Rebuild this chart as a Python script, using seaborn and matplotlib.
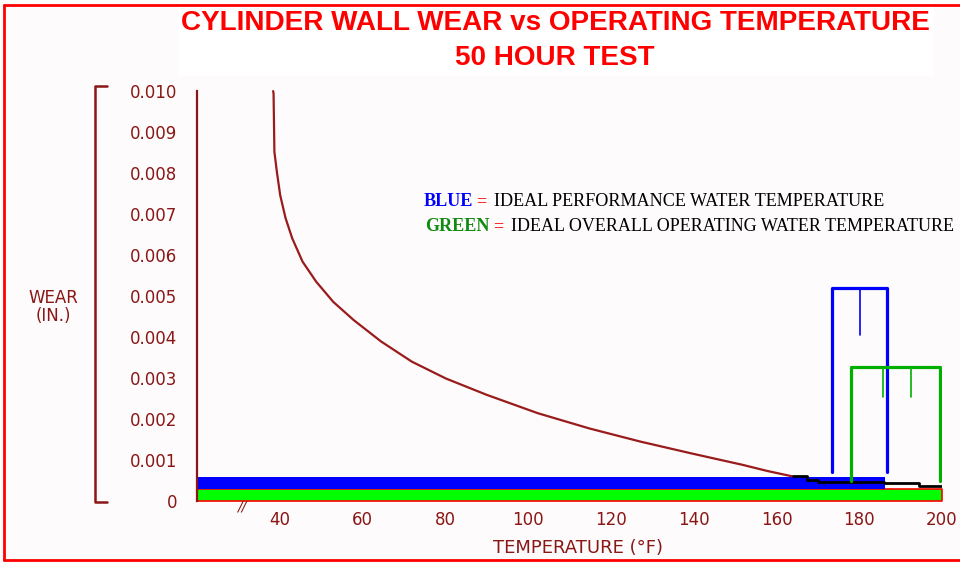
import matplotlib
matplotlib.use("Agg")
import matplotlib.pyplot as plt
import seaborn as sns
from matplotlib.lines import Line2D
from matplotlib.patches import Rectangle

# ---------------- data ----------------
temp_curve = [38.4, 38.5, 38.7, 39.3, 40.1, 41.4, 43.0, 45.5, 48.8, 52.9, 57.9,
              64.5, 71.9, 80.1, 90.0, 102.4, 114.8, 127.1, 139.5, 151.9, 157.9, 163.9]
wear_curve = [0.0100, 0.00994, 0.00852, 0.00803, 0.00746, 0.00690, 0.00641,
              0.00584, 0.00535, 0.00486, 0.00441, 0.00389, 0.00340, 0.00299,
              0.00259, 0.00214, 0.00177, 0.00145, 0.00116, 0.00088, 0.00073, 0.00060]
temp_black = [163.9, 167.5, 170.0, 186.0, 194.5, 200.0]
wear_black = [0.00060, 0.00052, 0.00047, 0.00044, 0.00036, 0.00036]

blue_band_x = [20, 186.3]
blue_band_low = [0.0003, 0.0003]
blue_band_high = [0.00058, 0.00058]
green_band_x = [20, 200]
green_band_low = [0.0, 0.0]
green_band_high = [0.0003, 0.0003]

blue_bracket_x = [173.5, 173.5, 186.7, 186.7]
blue_bracket_y = [0.00071, 0.0052, 0.0052, 0.00071]
blue_mark_x = [180.2]
blue_mark_y = [0.0052, 0.00405]
green_bracket_x = [178.0, 178.0, 199.5, 199.5]
green_bracket_y = [0.0005, 0.00327, 0.00327, 0.0005]
green_mark_x = [185.8, 192.5]
green_mark_y = [0.00327, 0.00254]

yticks = [0, 0.001, 0.002, 0.003, 0.004, 0.005, 0.006, 0.007, 0.008, 0.009, 0.010]
ytick_labels = ["0", "0.001", "0.002", "0.003", "0.004", "0.005", "0.006",
                "0.007", "0.008", "0.009", "0.010"]
xticks = [40, 60, 80, 100, 120, 140, 160, 180, 200]
xtick_labels = ["40", "60", "80", "100", "120", "140", "160", "180", "200"]

title_1 = "CYLINDER WALL WEAR vs OPERATING TEMPERATURE"
title_2 = "50 HOUR TEST"
legend_1 = ("BLUE", "=", "IDEAL PERFORMANCE WATER TEMPERATURE")
legend_2 = ("GREEN", "=", "IDEAL OVERALL OPERATING WATER TEMPERATURE")

# ---------------- style ----------------
sns.set_style("white")
plt.rcParams["font.family"] = ["DejaVu Sans"]
MAROON = "#8a1616"
BG = "#fdfbfb"

W, H = 960, 563
fig = plt.figure(figsize=(9.6, 5.63), dpi=100, facecolor=BG)


def fx(px):
    return px / W


def fy(py):
    return 1 - py / H


ax = fig.add_axes([fx(197), fy(501), (942 - 197) / W, (501 - 87) / H])
ax.set_facecolor(BG)
ax.set_xlim(20, 200)
ax.set_ylim(0, 0.0101)

# bands
ax.fill_between(green_band_x, green_band_low, green_band_high,
                facecolor="#00ff00", edgecolor="#ff0000", linewidth=1.2, zorder=2)
ax.fill_between(blue_band_x, blue_band_low, blue_band_high,
                facecolor="#0000ff", edgecolor="none", zorder=2)

# curve
sns.lineplot(x=temp_curve, y=wear_curve, sort=False, estimator=None,
             color="#9a1b1b", linewidth=1.6, ax=ax, zorder=3)
sns.lineplot(x=temp_black, y=wear_black, sort=False, estimator=None,
             color="black", linewidth=2.0, drawstyle="steps-post", ax=ax, zorder=4)

# brackets
sns.lineplot(x=blue_bracket_x, y=blue_bracket_y, sort=False, estimator=None,
             color="#0000ff", linewidth=2.3, ax=ax, zorder=5)
for mx in blue_mark_x:
    sns.lineplot(x=[mx, mx], y=blue_mark_y, sort=False, estimator=None,
                 color="#0000ff", linewidth=1.2, ax=ax, zorder=5)
sns.lineplot(x=green_bracket_x, y=green_bracket_y, sort=False, estimator=None,
             color="#00b000", linewidth=2.3, ax=ax, zorder=5)
for mx in green_mark_x:
    sns.lineplot(x=[mx, mx], y=green_mark_y, sort=False, estimator=None,
                 color="#00b000", linewidth=1.2, ax=ax, zorder=5)

# axes styling
for s in ["top", "right", "bottom"]:
    ax.spines[s].set_visible(False)
ax.spines["left"].set_color(MAROON)
ax.spines["left"].set_linewidth(1.6)
ax.spines["left"].set_bounds(0, 0.010)

ax.set_yticks(yticks, ytick_labels)
ax.set_xticks(xticks, xtick_labels)
ax.tick_params(axis="y", direction="in", length=5, width=1.3, color=MAROON,
               labelcolor=MAROON, labelsize=12, pad=14)
ax.tick_params(axis="x", length=0, labelcolor=MAROON, labelsize=12, pad=7)
ax.set_xlabel("")
ax.set_ylabel("")

# axis captions
fig.text(fx(578), fy(548), "TEMPERATURE (°F)", ha="center", va="center",
         color=MAROON, fontsize=13)
fig.text(fx(53), fy(307), "WEAR\n(IN.)", ha="center", va="center",
         color=MAROON, fontsize=12, linespacing=1.0, multialignment="center")
fig.text(fx(242), fy(506), "//", ha="center", va="center", color=MAROON,
         fontsize=10, fontstyle="italic")

# y bracket
fig.add_artist(Line2D([fx(107), fx(95), fx(95), fx(107)],
                      [fy(86), fy(86), fy(502), fy(502)],
                      color=MAROON, linewidth=1.8, transform=fig.transFigure))

# red border
fig.add_artist(Line2D([fx(4), fx(4)], [fy(5), fy(560)], color="#ff0000",
                      linewidth=2, transform=fig.transFigure))
fig.add_artist(Line2D([fx(4), fx(960)], [fy(5), fy(5)], color="#ff0000",
                      linewidth=2, transform=fig.transFigure))
fig.add_artist(Line2D([fx(4), fx(960)], [fy(560), fy(560)], color="#ff0000",
                      linewidth=2, transform=fig.transFigure))
fig.add_artist(Rectangle((fx(178), fy(76)), (934 - 178) / W, 74 / H,
                         facecolor="white", edgecolor="none",
                         transform=fig.transFigure))

renderer = fig.canvas.get_renderer()

# title, fitted to width
tfam = ["Liberation Sans", "DejaVu Sans"]
t1 = fig.text(fx(555), fy(23), title_1, ha="center", va="center", color="#ff0000",
              fontweight="bold", family=tfam, fontsize=20)
w1 = t1.get_window_extent(renderer).width
fs = 20 * 750 / w1
t1.set_fontsize(fs)
fig.text(fx(555), fy(58), title_2, ha="center", va="center", color="#ff0000",
         fontweight="bold", family=tfam, fontsize=fs)

# legend text built piece by piece
sfam = ["Liberation Serif", "DejaVu Serif"]


def fit_size(s, target):
    probe = fig.text(0, 0, s, family=sfam, fontsize=12)
    w = probe.get_window_extent(renderer).width
    probe.remove()
    return 12 * target / w


def colored_line(px, py, parts, colors, weights, sizes, gaps):
    x = px
    for s, c, w, sz, g in zip(parts, colors, weights, sizes, gaps):
        t = fig.text(fx(x), fy(py), s, ha="left", va="center", color=c,
                     fontweight=w, family=sfam, fontsize=sz)
        x += t.get_window_extent(renderer).width + g


lfs1 = fit_size(legend_1[2], 388)
lfs2 = fit_size(legend_2[2], 440)
colored_line(424, 202, legend_1, ["#0000ff", "#ff2020", "black"],
             ["bold", "bold", "normal"], [lfs1, lfs1, lfs1], [3, 7, 0])
colored_line(425, 227, legend_2, ["#108a10", "#ff2020", "black"],
             ["bold", "bold", "normal"], [lfs1, lfs1, lfs2], [4, 7, 0])

fig.savefig("out.png", dpi=100, facecolor=fig.get_facecolor())
